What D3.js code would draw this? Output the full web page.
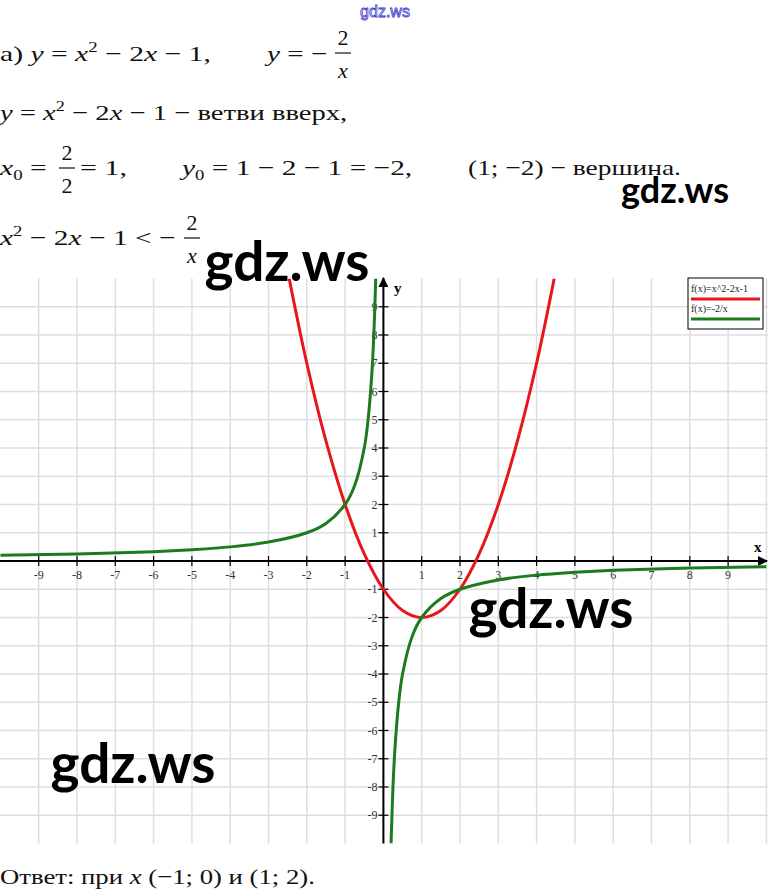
<!DOCTYPE html>
<html>
<head>
<meta charset="utf-8">
<script src="https://cdn.jsdelivr.net/npm/d3@7"></script>
<style>
  body { margin: 0; background: #fff; }
  svg { display: block; }
  .math { font-family: 'Liberation Serif', 'Times New Roman', serif; font-size: 22px; fill: #111; white-space: pre; }
  .tick-label { font-family: 'Liberation Serif', serif; font-size: 12px; fill: #333; }
  .wm { font-family: Lato, sans-serif; font-weight: bold; fill: #000; }
</style>
</head>
<body>
<div id="chart"></div>
<script>
// grid / tick values
var gridValues = [-9, -8, -7, -6, -5, -4, -3, -2, -1, 0, 1, 2, 3, 4, 5, 6, 7, 8, 9, 10]
var xTicks = [-9, -8, -7, -6, -5, -4, -3, -2, -1, 1, 2, 3, 4, 5, 6, 7, 8, 9]
var yTicks = [-9, -8, -7, -6, -5, -4, -3, -2, -1, 1, 2, 3, 4, 5, 6, 7, 8, 9]

// red curve
var parabolaX = [-2.46, -2, -1.5, -1, -0.5, 0, 0.5, 1, 1.5, 2, 2.5, 3, 3.5, 4, 4.46]
var parabolaY = [10, 7, 4.25, 2, 0.25, -1, -1.75, -2, -1.75, -1, 0.25, 2, 4.25, 7, 10]

// green curve, two branches
var hyperLeftX = [-10, -8, -6, -5, -4, -3, -2, -1.5, -1, -0.75, -0.5, -0.4, -0.3, -0.25, -0.2]
var hyperLeftY = [0.2, 0.25, 0.33, 0.4, 0.5, 0.67, 1, 1.33, 2, 2.67, 4, 5, 6.67, 8, 10]
var hyperRightX = [0.2, 0.25, 0.3, 0.4, 0.5, 0.75, 1, 1.5, 2, 3, 4, 5, 6, 8, 10]
var hyperRightY = [-10, -8, -6.67, -5, -4, -2.67, -2, -1.33, -1, -0.67, -0.5, -0.4, -0.33, -0.25, -0.2]

var legendLabels = ['f(x)=x^2-2x-1', 'f(x)=-2/x']
var legendColors = ['#e8151b', '#1d7a1d']

var width = 768
var height = 894

var svg = d3.select('#chart')
  .append('svg')
  .attr('width', width)
  .attr('height', height)

svg.append('rect').attr('width', width).attr('height', height).attr('fill', '#fff')

// scales
var xPositionScale = d3.scaleLinear().domain([-10, 10]).range([0.4, 766.4])
var yPositionScale = d3.scaleLinear().domain([-10, 10]).range([843.5, 278.5])

// grid
svg.append('g')
  .selectAll('line')
  .data(gridValues)
  .enter()
  .append('line')
  .attr('x1', function(d) { return xPositionScale(d) })
  .attr('x2', function(d) { return xPositionScale(d) })
  .attr('y1', yPositionScale(10))
  .attr('y2', yPositionScale(-10))
  .attr('stroke', '#dedede')
  .attr('stroke-width', 1.5)

svg.append('g')
  .selectAll('line')
  .data(gridValues.filter(function(d) { return d < 10 }))
  .enter()
  .append('line')
  .attr('x1', 0)
  .attr('x2', width)
  .attr('y1', function(d) { return yPositionScale(d) })
  .attr('y2', function(d) { return yPositionScale(d) })
  .attr('stroke', '#dedede')
  .attr('stroke-width', 1.5)

// arrow marker
svg.append('defs')
  .append('marker')
  .attr('id', 'arrow')
  .attr('viewBox', '0 0 10 10')
  .attr('refX', 9)
  .attr('refY', 5)
  .attr('markerWidth', 5)
  .attr('markerHeight', 5)
  .attr('orient', 'auto')
  .append('path')
  .attr('d', 'M0,0 L10,5 L0,10 Z')
  .attr('fill', '#000')

svg.select('defs')
  .append('clipPath')
  .attr('id', 'plot-clip')
  .append('rect')
  .attr('x', 0)
  .attr('y', yPositionScale(10))
  .attr('width', width)
  .attr('height', yPositionScale(-10) - yPositionScale(10))

// axes
var x0 = xPositionScale(0)
var y0 = yPositionScale(0)

svg.append('line')
  .attr('x1', 0).attr('x2', 767)
  .attr('y1', y0).attr('y2', y0)
  .attr('stroke', '#000').attr('stroke-width', 2)
  .attr('marker-end', 'url(#arrow)')

svg.append('line')
  .attr('x1', x0).attr('x2', x0)
  .attr('y1', yPositionScale(-10)).attr('y2', 278)
  .attr('stroke', '#000').attr('stroke-width', 2)
  .attr('marker-end', 'url(#arrow)')

// x ticks
var xt = svg.append('g').selectAll('g').data(xTicks).enter().append('g')
xt.append('line')
  .attr('x1', function(d) { return xPositionScale(d) })
  .attr('x2', function(d) { return xPositionScale(d) })
  .attr('y1', y0 - 5).attr('y2', y0 + 5)
  .attr('stroke', '#000').attr('stroke-width', 1.2)
xt.append('text')
  .attr('class', 'tick-label')
  .attr('x', function(d) { return xPositionScale(d) })
  .attr('y', y0 + 18)
  .attr('text-anchor', 'middle')
  .text(function(d) { return d })

// y ticks
var yt = svg.append('g').selectAll('g').data(yTicks).enter().append('g')
yt.append('line')
  .attr('x1', x0 - 5).attr('x2', x0 + 5)
  .attr('y1', function(d) { return yPositionScale(d) })
  .attr('y2', function(d) { return yPositionScale(d) })
  .attr('stroke', '#000').attr('stroke-width', 1.2)
yt.append('text')
  .attr('class', 'tick-label')
  .attr('x', x0 - 6)
  .attr('y', function(d) { return yPositionScale(d) + 4 })
  .attr('text-anchor', 'end')
  .text(function(d) { return d })

// axis names
svg.append('text')
  .attr('font-family', "'Liberation Serif', serif").attr('font-weight', 'bold').attr('font-size', 15)
  .attr('x', 754).attr('y', 552).text('x')
svg.append('text')
  .attr('font-family', "'Liberation Serif', serif").attr('font-weight', 'bold').attr('font-size', 15)
  .attr('x', 394).attr('y', 293).text('y')

// curves
var line = d3.line()
  .x(function(d) { return xPositionScale(d[0]) })
  .y(function(d) { return yPositionScale(d[1]) })
  .curve(d3.curveCatmullRom.alpha(0.5))

var curves = svg.append('g').attr('clip-path', 'url(#plot-clip)')

curves.append('path')
  .datum(d3.zip(parabolaX, parabolaY))
  .attr('d', line)
  .attr('fill', 'none')
  .attr('stroke', legendColors[0])
  .attr('stroke-width', 3)

curves.append('path')
  .datum(d3.zip(hyperLeftX, hyperLeftY))
  .attr('d', line)
  .attr('fill', 'none')
  .attr('stroke', legendColors[1])
  .attr('stroke-width', 3)

curves.append('path')
  .datum(d3.zip(hyperRightX, hyperRightY))
  .attr('d', line)
  .attr('fill', 'none')
  .attr('stroke', legendColors[1])
  .attr('stroke-width', 3)

// legend
var legend = svg.append('g').attr('transform', 'translate(688,278)')
legend.append('rect')
  .attr('width', 75).attr('height', 51)
  .attr('fill', '#fff').attr('stroke', '#000').attr('stroke-width', 1)
var li = legend.selectAll('g.item').data(legendLabels).enter().append('g')
  .attr('class', 'item')
  .attr('transform', function(d, i) { return 'translate(0,' + (i * 20) + ')' })
li.append('text')
  .attr('x', 3).attr('y', 14)
  .attr('font-family', "'Liberation Serif', serif")
  .attr('font-size', 10)
  .attr('fill', '#222')
  .text(function(d) { return d })
li.append('line')
  .attr('x1', 3).attr('x2', 72)
  .attr('y1', 21).attr('y2', 21)
  .attr('stroke', function(d, i) { return legendColors[i] })
  .attr('stroke-width', 3)

// math text: the source is stretched sideways, so each piece is scaled to its width
function mathLine(x, y, w, parts) {
  var g = svg.append('g').attr('transform', 'translate(' + x + ',' + y + ')')
  var t = g.append('text').attr('class', 'math')
  var shift = 0
  parts.forEach(function(p) {
    var target = p[1] === 'sup' ? -9 : (p[1] === 'sub' ? 5 : 0)
    var s = t.append('tspan').text(p[0]).attr('dy', target - shift)
    shift = target
    if (p[1] === 'i') s.attr('font-style', 'italic')
    if (p[1] === 'sup' || p[1] === 'sub') s.attr('font-size', 14)
  })
  var bw = t.node().getBBox().width
  g.attr('transform', 'translate(' + x + ',' + y + ') scale(' + (w / bw) + ',1)')
  return g
}

function frac(cx, barY, num, den, denItalic) {
  svg.append('text').attr('class', 'math').attr('x', cx).attr('y', barY - 8)
    .attr('text-anchor', 'middle').text(num)
  svg.append('line')
    .attr('x1', cx - 8).attr('x2', cx + 8)
    .attr('y1', barY).attr('y2', barY)
    .attr('stroke', '#111').attr('stroke-width', 1.2)
  svg.append('text').attr('class', 'math').attr('x', cx).attr('y', barY + 25)
    .attr('text-anchor', 'middle')
    .attr('font-style', denItalic ? 'italic' : 'normal')
    .text(den)
}

// line 1
mathLine(0, 61, 211, [['а) ', ''], ['y', 'i'], [' = ', ''], ['x', 'i'], ['2', 'sup'], [' − 2', ''], ['x', 'i'], [' − 1,', '']])
mathLine(267, 61, 63, [['y', 'i'], [' = −', '']])
frac(343, 53, '2', 'x', true)

// line 2
mathLine(0, 120, 350, [['y', 'i'], [' = ', ''], ['x', 'i'], ['2', 'sup'], [' − 2', ''], ['x', 'i'], [' − 1 − ветви вверх,', '']])

// line 3
mathLine(0, 175, 48, [['x', 'i'], ['0', 'sub'], [' =', '']])
frac(67, 168, '2', '2', false)
mathLine(80, 175, 47, [['= 1,', '']])
mathLine(182, 175, 233, [['y', 'i'], ['0', 'sub'], [' = 1 − 2 − 1 = −2,', '']])
mathLine(468, 175, 213, [['(1; −2) − вершина.', '']])

// line 4
mathLine(0, 245, 177, [['x', 'i'], ['2', 'sup'], [' − 2', ''], ['x', 'i'], [' − 1 < −', '']])
frac(192, 238, '2', 'x', true)

// answer
mathLine(0, 884, 315, [['Ответ: при ', ''], ['x', 'i'], [' (−1; 0) и (1; 2).', '']])

// watermarks
svg.append('text')
  .attr('x', 385).attr('y', 17)
  .attr('text-anchor', 'middle')
  .attr('font-family', "'Liberation Sans', sans-serif")
  .attr('font-size', 16)
  .attr('fill', '#fff').attr('stroke', '#3a3acc').attr('stroke-width', 0.8)
  .text('gdz.ws')

var wmarks = [[675, 203, 36], [287, 281, 55], [551, 628, 55], [133, 783, 55]]
wmarks.forEach(function(w) {
  svg.append('text').attr('class', 'wm')
    .attr('x', w[0]).attr('y', w[1])
    .attr('text-anchor', 'middle')
    .attr('font-size', w[2])
    .text('gdz.ws')
})
</script>
</body>
</html>
